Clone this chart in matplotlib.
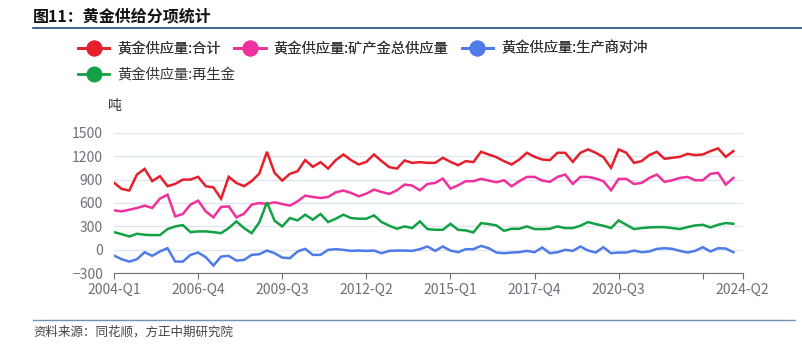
import matplotlib
matplotlib.use('Agg')
import matplotlib.pyplot as plt
from matplotlib.lines import Line2D

plt.rcParams['font.family'] = ['Noto Sans CJK SC', 'DejaVu Sans']

# quarterly, 2004-Q1 .. 2024-Q2 (tonnes)
total = [860, 780, 760, 965, 1037, 880, 943, 815, 845, 900, 900, 935, 815, 800, 655, 935,
         857, 815, 880, 977, 1255, 985, 887, 973, 1007, 1150, 1063, 1123,
         1041, 1149, 1221, 1149, 1093, 1127, 1221, 1136, 1059, 1041, 1144, 1114, 1123, 1114,
         1114, 1179, 1127, 1084, 1136, 1123, 1256, 1221, 1187, 1136, 1093, 1157, 1243, 1191, 1157,
         1149, 1243, 1243, 1127, 1243, 1286, 1243, 1187, 1050, 1286, 1243, 1114, 1136, 1213,
         1256, 1166, 1179, 1191, 1230, 1213, 1221, 1264, 1299, 1191, 1264]
mine = [506, 493, 514, 536, 566, 536, 656, 707, 429, 459, 579, 630, 493, 416, 549, 557,
        416, 463, 579, 600, 587, 609, 587, 566, 621, 694, 677, 664,
        677, 737, 759, 729, 686, 720, 771, 741, 716, 763, 836, 823, 763, 844, 857, 913,
        784, 827, 879, 879, 909, 887, 866, 891, 814, 879, 934, 934, 887,
        870, 934, 964, 844, 934, 934, 913, 879, 763, 909, 909, 844, 857, 921, 964, 870,
        891, 921, 934, 891, 891, 973, 986, 836, 921]
hedging = [-73, -120, -150, -120, -30, -77, -21, 21, -150, -150, -64, -34, -94, -201, -86, -77,
           -137, -129, -64, -56, -9, -43, -99, -107, -21, 13, -64, -64,
           0, 9, 0, -13, -9, -13, -9, -43, -13, -9, -9, -13, 9, 43, -13, 43, -9, -30,
           9, 9, 51, 21, -34, -43, -34, -30, -13, -30, 30,
           -43, -30, 0, -13, 43, -9, -34, 34, -43, -34, -34, -9, -30, -21, 13, 21,
           13, -13, -34, -13, 34, -21, 21, 17, -30]
recycled = [227, 201, 171, 206, 193, 189, 189, 266, 300, 317, 227, 236, 236, 227, 214, 279,
            364, 279, 214, 351, 609, 373, 300, 407, 377, 450, 386, 459,
            356, 399, 450, 407, 399, 399, 441, 356, 309, 270, 300, 279, 364, 266, 257, 257,
            334, 257, 249, 223, 343, 330, 313, 244, 270, 270, 300, 266, 266,
            270, 300, 279, 279, 309, 356, 330, 309, 279, 377, 321, 266, 279, 287, 291, 291,
            279, 266, 291, 313, 321, 287, 321, 343, 334]

tick_labels = ['2004-Q1', '2006-Q4', '2009-Q3', '2012-Q2', '2015-Q1', '2017-Q4', '2020-Q3', '', '2024-Q2']
y_ticks = [-300, 0, 300, 600, 900, 1200, 1500]

names = ['黄金供应量:合计', '黄金供应量:矿产金总供应量', '黄金供应量:生产商对冲', '黄金供应量:再生金']
colors = ['#e61f2d', '#f0309c', '#4f7be8', '#12a144']
series = [total, mine, hedging, recycled]

fig = plt.figure(figsize=(8.03, 3.52), dpi=100)
ax = fig.add_axes([0.142, 0.2236, 0.7827, 0.3994])

x = list(range(len(total)))
for vals, c in zip(series, colors):
    ax.plot(x, vals, color=c, linewidth=1.8, solid_joinstyle='miter')

x_end = 82.2
ax.set_xlim(0, x_end)
ax.set_ylim(-300, 1500)
ax.set_yticks(y_ticks)
ax.set_xticks([0, 11, 22, 33, 44, 55, 66, 77, x_end])
ax.set_xticklabels(tick_labels)
ax.grid(axis='y', color='#e0e6f1', linewidth=1)
ax.set_axisbelow(True)
for s in ['top', 'right', 'left']:
    ax.spines[s].set_visible(False)
ax.spines['bottom'].set_color('#6e7079')
ax.spines['bottom'].set_position(('data', -300))
ax.tick_params(axis='y', length=0, labelsize=10, labelcolor='#6e7079', pad=8)
ax.tick_params(axis='x', length=4, color='#6e7079', labelsize=10, labelcolor='#6e7079', pad=3)

# legend: two rows laid out independently
handles = [Line2D([0], [0], color=c, linewidth=2, marker='o', markersize=10.5) for c in colors]
leg_kw = dict(loc='upper left', frameon=False, fontsize=10.3, labelcolor='#333333',
              handlelength=2.2, handletextpad=0.55, columnspacing=0.93,
              borderpad=0, borderaxespad=0)
leg1 = fig.legend(handles[:3], names[:3], bbox_to_anchor=(0.097, 0.882), ncol=3, **leg_kw)
fig.add_artist(leg1)
fig.legend(handles[3:], names[3:], bbox_to_anchor=(0.097, 0.808), ncol=1, **leg_kw)

fig.text(0.134, (352 - 106) / 352, '吨', fontsize=10, color='#333333', va='center')

# header / footer
fig.text(33 / 803, (352 - 16) / 352, '图11：黄金供给分项统计', fontsize=11.5, fontweight='bold',
         color='#111111', va='center')
fig.add_artist(Line2D([33 / 803, 1.0], [(352 - 27.5) / 352] * 2, color='#1f4e79', linewidth=1.2))
fig.add_artist(Line2D([33 / 803, 795 / 803], [(352 - 320) / 352] * 2, color='#6f93b5', linewidth=1))
fig.text(33 / 803, (352 - 332) / 352, '资料来源：同花顺，方正中期研究院', fontsize=9,
         color='#444444', va='center', style='italic')

fig.savefig('out.png', dpi=100)
